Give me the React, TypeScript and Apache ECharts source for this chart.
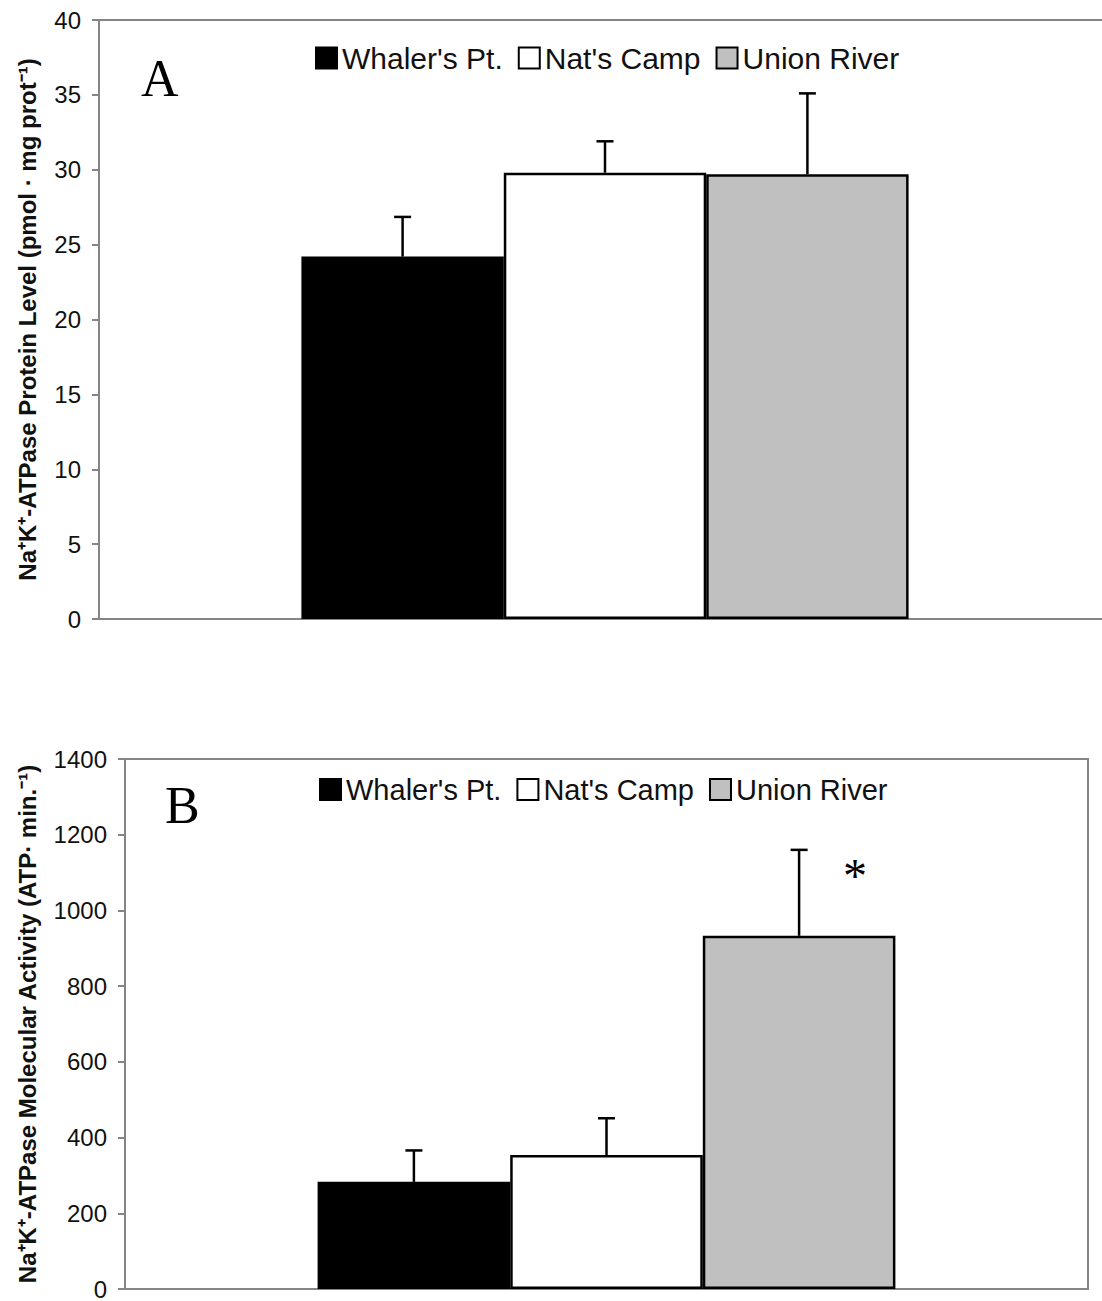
import React, { useEffect, useRef } from 'react';
import * as echarts from 'echarts';

const sites = ["Whaler's Pt.", "Nat's Camp", 'Union River'];
const siteColors = ['#000000', '#ffffff', '#c0c0c0'];
const groupCategory = [''];

// Panel A: protein level
const proteinMeans = [24.2, 29.8, 29.7];
const proteinErrTops = [26.85, 31.9, 35.1];
const proteinAxis = { min: 0, max: 40, interval: 5 };
const proteinTitle = 'Na\u207AK\u207A-ATPase Protein Level (pmol \u00B7 mg prot\u207B\u00B9)';

// Panel B: molecular activity
const activityMeans = [283, 354, 933];
const activityErrTops = [366, 451, 1160];
const activitySignificant = [0, 0, 1];
const activityAxis = { min: 0, max: 1400, interval: 200 };
const activityTitle = 'Na\u207AK\u207A-ATPase Molecular Activity (ATP\u00B7 min.\u207B\u00B9)';

const FONT = "'Liberation Sans', Arial, sans-serif";
const AXIS_GRAY = '#858585';

function barSeries(idx: number, means: number[]) {
  return sites.map((name, i) => ({
    type: 'bar',
    name,
    xAxisIndex: idx,
    yAxisIndex: idx,
    data: [means[i]],
    barGap: '0%',
    barCategoryGap: '40%',
    silent: true,
    itemStyle: { color: siteColors[i], borderColor: '#000', borderWidth: 2.5 },
    emphasis: { disabled: true },
  }));
}

function errorSeries(idx: number, means: number[], tops: number[], sig: number[]) {
  return {
    type: 'custom',
    xAxisIndex: idx,
    yAxisIndex: idx,
    silent: true,
    z: 5,
    data: means.map((m, i) => [0, m, tops[i], i, sig[i]]),
    encode: { x: 0, y: [1, 2] },
    renderItem: (params: any, api: any) => {
      const cat = api.value(0);
      const k = api.value(3);
      const base = api.coord([cat, api.value(1)]);
      const top = api.coord([cat, api.value(2)]);
      const band = api.size([1, 0])[0];
      const barW = (band * 0.6) / 3;
      const cx = base[0] + (k - 1) * barW;
      const children: any[] = [
        { type: 'line', shape: { x1: cx, y1: base[1], x2: cx, y2: top[1] }, style: { stroke: '#000', lineWidth: 2.5 } },
        { type: 'line', shape: { x1: cx - 8.5, y1: top[1], x2: cx + 8.5, y2: top[1] }, style: { stroke: '#000', lineWidth: 2.5 } },
      ];
      if (api.value(4)) {
        children.push({
          type: 'text',
          x: cx + barW * 0.29,
          y: top[1] + 26,
          style: { text: '*', font: "48px 'Liberation Serif'", fill: '#000', align: 'center', verticalAlign: 'middle' },
        });
      }
      return { type: 'group', children };
    },
  };
}

function yAxis(idx: number, ax: { min: number; max: number; interval: number }, name: string, gap: number) {
  return {
    type: 'value',
    gridIndex: idx,
    min: ax.min,
    max: ax.max,
    interval: ax.interval,
    name,
    nameLocation: 'middle',
    nameRotate: 90,
    nameGap: gap,
    nameTextStyle: { fontFamily: FONT, fontWeight: 'bold', fontSize: 24, color: '#111' },
    axisLine: { show: true, lineStyle: { color: AXIS_GRAY, width: 2 } },
    axisTick: { show: true, length: 7, lineStyle: { color: AXIS_GRAY, width: 2 } },
    axisLabel: { fontFamily: FONT, fontSize: 24, color: '#111', margin: 18, formatter: (v: number) => String(v) },
    splitLine: { show: false },
  };
}

function xAxis(idx: number) {
  return {
    type: 'category',
    gridIndex: idx,
    data: groupCategory,
    axisLine: { show: true, lineStyle: { color: AXIS_GRAY, width: 2 } },
    axisTick: { show: false },
    axisLabel: { show: false },
  };
}

function legend(left: number, top: number, fontSize: number) {
  return {
    data: sites,
    left,
    top,
    padding: 0,
    icon: 'rect',
    itemWidth: 21,
    itemHeight: 21,
    itemGap: 15,
    selectedMode: false,
    textStyle: { fontFamily: FONT, fontSize, color: '#111' },
  };
}

export default function App() {
  const ref = useRef<HTMLDivElement>(null);
  useEffect(() => {
    document.body.style.margin = '0';
    const chart = echarts.init(ref.current!, null, { renderer: 'svg' });
    chart.setOption({
      animation: false,
      backgroundColor: '#ffffff',
      grid: [
        { left: 99, top: 20, width: 1012, height: 599, show: true, borderColor: AXIS_GRAY, borderWidth: 2, backgroundColor: 'transparent' },
        { left: 125, top: 759, width: 963, height: 534, show: true, borderColor: AXIS_GRAY, borderWidth: 2, backgroundColor: 'transparent' },
      ],
      xAxis: [xAxis(0), xAxis(1)],
      yAxis: [yAxis(0, proteinAxis, proteinTitle, 60), yAxis(1, activityAxis, activityTitle, 86)],
      legend: [legend(315, 43, 30), legend(319, 775, 29)],
      graphic: [
        { type: 'text', left: 141, top: 52, style: { text: 'A', font: "52px 'Liberation Serif'", fill: '#000' } },
        { type: 'text', left: 165, top: 779, style: { text: 'B', font: "52px 'Liberation Serif'", fill: '#000' } },
      ],
      series: [
        ...barSeries(0, proteinMeans),
        errorSeries(0, proteinMeans, proteinErrTops, [0, 0, 0]),
        ...barSeries(1, activityMeans),
        errorSeries(1, activityMeans, activityErrTops, activitySignificant),
      ],
    });
    return () => chart.dispose();
  }, []);
  return (
    <div style={{ width: 1102, height: 1301, overflow: 'hidden', position: 'relative' }}>
      <div ref={ref} style={{ width: 1130, height: 1301 }} />
    </div>
  );
}
